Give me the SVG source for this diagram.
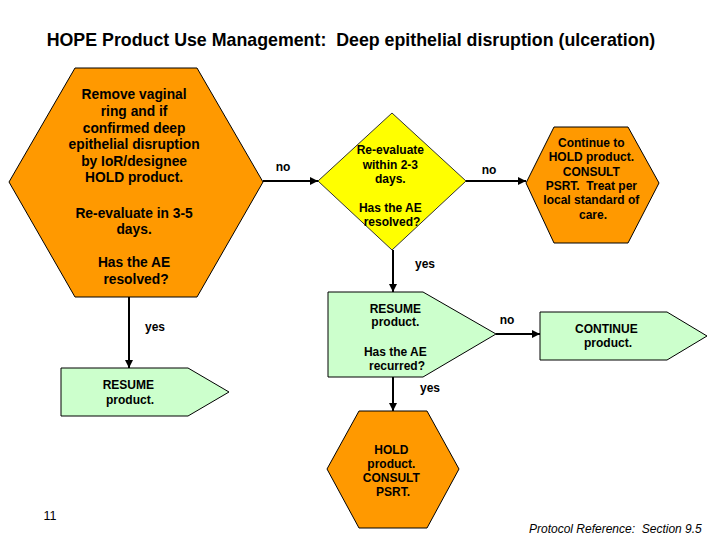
<svg xmlns="http://www.w3.org/2000/svg" width="720" height="540" viewBox="0 0 720 540">
<defs>
<marker id="ah" viewBox="0 0 10 10" refX="10" refY="5" markerWidth="4" markerHeight="4" orient="auto" markerUnits="strokeWidth">
<path d="M0,0 L10,5 L0,10 z" fill="#000"/>
</marker>
<style>
.t{font-family:"Liberation Sans",Arial,sans-serif;font-weight:bold;fill:#000;text-anchor:middle}
.s12{font-size:12px}
.s14{font-size:13.8px}
.orange{fill:#FF9900;stroke:#000;stroke-width:1}
.yellow{fill:#FFFF00;stroke:#333;stroke-width:1}
.green{fill:#CCFFCC;stroke:#000;stroke-width:1}
.c{stroke:#000;stroke-width:2;fill:none;marker-end:url(#ah)}
.lbl{font-family:"Liberation Sans",Arial,sans-serif;font-weight:bold;font-size:12px;fill:#000}
</style>
</defs>
<rect width="720" height="540" fill="#fff"/>
<text class="t" x="351" y="46" style="font-size:17.8px">HOPE Product Use Management:&#160; Deep epithelial disruption (ulceration)</text>

<g id="connectors">
<line class="c" x1="263" y1="181" x2="318" y2="181"/>
<line class="c" x1="466" y1="181" x2="526" y2="181"/>
<line class="c" x1="393" y1="250" x2="393" y2="292"/>
<line class="c" x1="496" y1="334" x2="540" y2="334"/>
<line class="c" x1="393" y1="377" x2="393" y2="411"/>
<line class="c" x1="129" y1="297" x2="129" y2="368"/>
<text class="lbl" x="283" y="171" text-anchor="middle">no</text>
<text class="lbl" x="489" y="174" text-anchor="middle">no</text>
<text class="lbl" x="425" y="268" text-anchor="middle">yes</text>
<text class="lbl" x="507" y="324" text-anchor="middle">no</text>
<text class="lbl" x="430" y="392" text-anchor="middle">yes</text>
<text class="lbl" x="155" y="331" text-anchor="middle">yes</text>
</g>

<g id="n-remove">
<polygon class="orange" points="9,182 75,68 197,68 263,182 197,297 75,297"/>
<text class="t s14" x="136">
<tspan x="136" y="99">Remove vaginal</tspan>
<tspan x="136" y="116">ring and if</tspan>
<tspan x="136" y="133">confirmed deep</tspan>
<tspan x="136" y="149">epithelial disruption</tspan>
<tspan x="136" y="166">by IoR/designee</tspan>
<tspan x="136" y="182">HOLD product.</tspan>
<tspan x="136" y="218">Re-evaluate in 3-5</tspan>
<tspan x="136" y="234">days.</tspan>
<tspan x="136" y="267">Has the AE</tspan>
<tspan x="136" y="284">resolved?</tspan>
</text>
</g>

<g id="n-reeval">
<polygon class="yellow" points="318,181 392,113 466,181 392,250"/>
<text class="t s12">
<tspan x="392" y="154">Re-evaluate</tspan>
<tspan x="392" y="169">within 2-3</tspan>
<tspan x="392" y="183">days.</tspan>
<tspan x="392" y="212">Has the AE</tspan>
<tspan x="392" y="226">resolved?</tspan>
</text>
</g>

<g id="n-continue-hold">
<polygon class="orange" points="526,183 554,127 628,127 659,183 628,243 554,243"/>
<text class="t s12">
<tspan x="593" y="147">Continue to</tspan>
<tspan x="593" y="161">HOLD product.</tspan>
<tspan x="593" y="176">CONSULT</tspan>
<tspan x="593" y="190">PSRT.&#160; Treat per</tspan>
<tspan x="593" y="204">local standard of</tspan>
<tspan x="593" y="219">care.</tspan>
</text>
</g>

<g id="n-resume-mid">
<polygon class="green" points="328,292 423,292 496,334 423,377 328,377"/>
<text class="t s12">
<tspan x="397" y="313">RESUME</tspan>
<tspan x="397" y="326">product.</tspan>
<tspan x="397" y="356">Has the AE</tspan>
<tspan x="397" y="370">recurred?</tspan>
</text>
</g>

<g id="n-continue-product">
<polygon class="green" points="540,312 667,312 707,336 667,360 540,360"/>
<text class="t s12">
<tspan x="608" y="333">CONTINUE</tspan>
<tspan x="608" y="347">product.</tspan>
</text>
</g>

<g id="n-resume-left">
<polygon class="green" points="61,368 188,368 229,392 188,416 61,416"/>
<text class="t s12">
<tspan x="130" y="389">RESUME</tspan>
<tspan x="130" y="404">product.</tspan>
</text>
</g>

<g id="n-hold">
<polygon class="orange" points="327,469 359,411 427,411 459,469 427,528 359,528"/>
<text class="t s12">
<tspan x="393" y="454">HOLD</tspan>
<tspan x="393" y="468">product.</tspan>
<tspan x="393" y="482">CONSULT</tspan>
<tspan x="393" y="496">PSRT.</tspan>
</text>
</g>

<text x="50" y="520" style="font-family:'Liberation Sans',Arial,sans-serif;font-size:12.5px;fill:#000" text-anchor="middle">11</text>
<text x="529" y="533" style="font-family:'Liberation Sans',Arial,sans-serif;font-size:12px;font-style:italic;fill:#000">Protocol Reference:&#160; Section 9.5</text>
</svg>
